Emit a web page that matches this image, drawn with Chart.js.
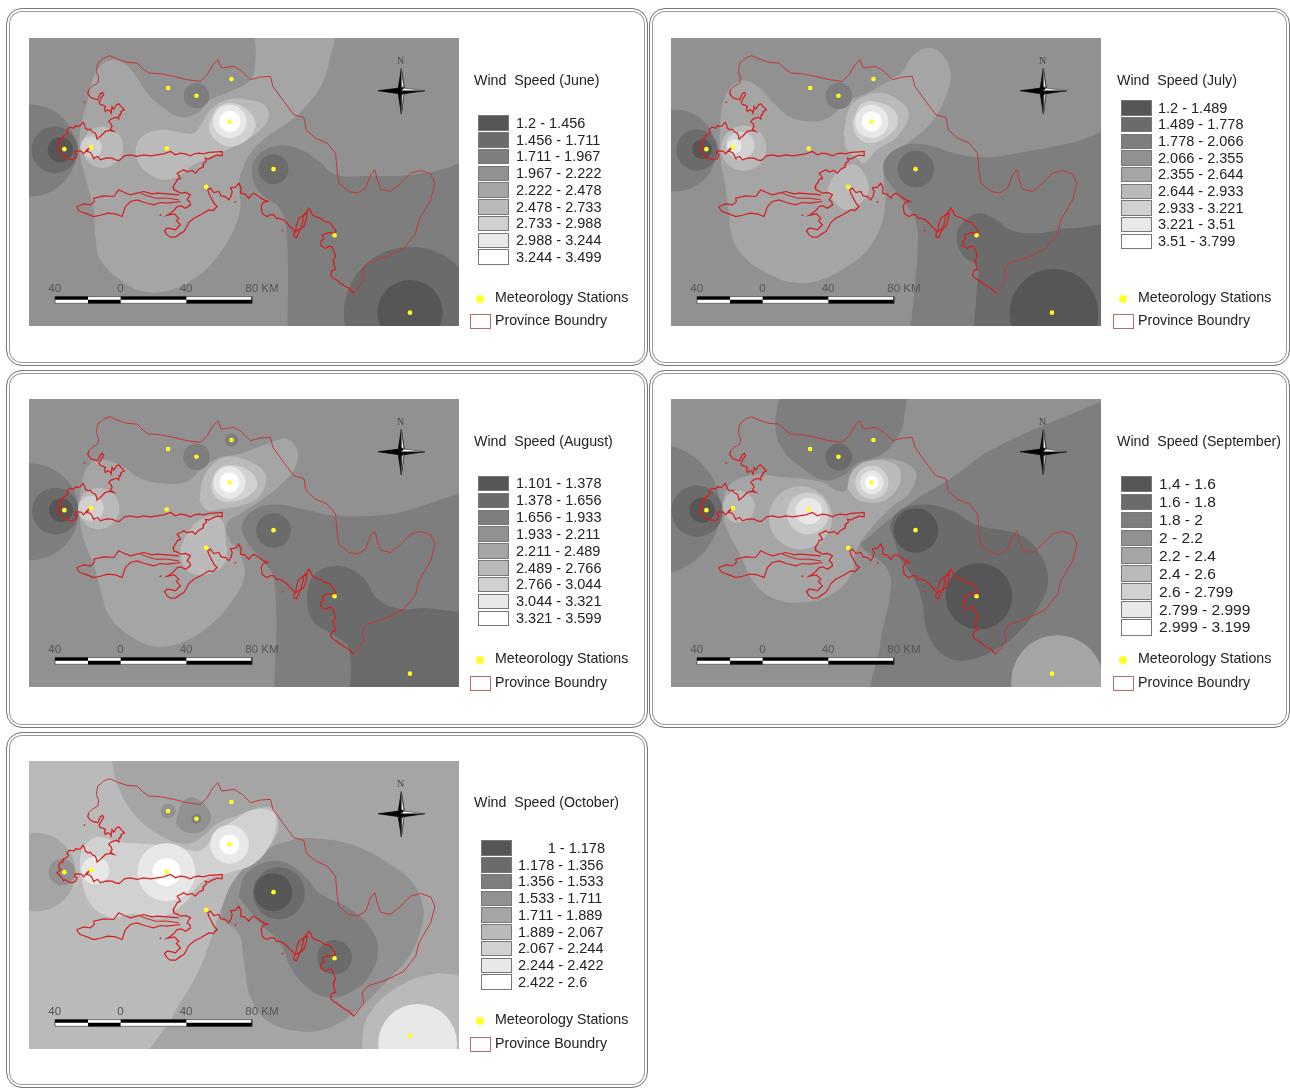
<!DOCTYPE html>
<html>
<head>
<meta charset="utf-8">
<title>Wind Speed</title>
<script src="https://cdn.jsdelivr.net/npm/chart.js@4"></script>
<style>
html,body{margin:0;padding:0;background:#fff;}
body{width:1290px;height:1088px;position:relative;overflow:hidden;font-family:"Liberation Sans",Arial,sans-serif;color:#222;}
.frame{position:absolute;box-sizing:border-box;border:1px solid #777;border-radius:16px;box-shadow:inset 0 0 0 2px #fff,inset 0 0 0 3px #999;}
canvas{position:absolute;filter:blur(.45px);}
.t{position:absolute;white-space:pre;line-height:1;filter:blur(.25px);}
.sw{position:absolute;box-sizing:border-box;border:1.5px solid #777;width:31px;}
.dot{position:absolute;width:8px;height:8px;border-radius:50%;background:#ffff22;}
.pb{position:absolute;box-sizing:border-box;width:21px;height:15px;border:1px solid #b96a6a;}
</style>
</head>
<body>
<script>
// DATA
const months = ['June','July','August','September','October'];

const juneRanges = ['1.2 - 1.456','1.456 - 1.711','1.711 - 1.967','1.967 - 2.222','2.222 - 2.478','2.478 - 2.733','2.733 - 2.988','2.988 - 3.244','3.244 - 3.499'];
const julyRanges = ['1.2 - 1.489','1.489 - 1.778','1.778 - 2.066','2.066 - 2.355','2.355 - 2.644','2.644 - 2.933','2.933 - 3.221','3.221 - 3.51','3.51 - 3.799'];
const augustRanges = ['1.101 - 1.378','1.378 - 1.656','1.656 - 1.933','1.933 - 2.211','2.211 - 2.489','2.489 - 2.766','2.766 - 3.044','3.044 - 3.321','3.321 - 3.599'];
const septemberRanges = ['1.4 - 1.6','1.6 - 1.8','1.8 - 2','2 - 2.2','2.2 - 2.4','2.4 - 2.6','2.6 - 2.799','2.799 - 2.999','2.999 - 3.199'];
const octoberRanges = ['1 - 1.178','1.178 - 1.356','1.356 - 1.533','1.533 - 1.711','1.711 - 1.889','1.889 - 2.067','2.067 - 2.244','2.244 - 2.422','2.422 - 2.6'];

const stations = [[132,358],[212,352],[443,175],[528,198],[633,148],[627,275],[439,356],[557,471],[759,418],[942,616],[1168,848]];
const islets = [[192,217],[645,516],[786,602],[420,556]];

const coast = [[205,180],[202,192],[208,200],[215,205],[232,210],[240,192],[246,188],[250,195],[244,202],[240,210],[236,218],[240,225],[248,226],[255,230],[252,238],[255,245],[262,240],[268,242],[272,250],[275,230],[280,238],[288,226],[295,222],[304,232],[312,240],[304,244],[302,250],[296,256],[295,268],[288,262],[280,265],[272,268],[265,275],[272,282],[275,290],[270,298],[280,305],[268,302],[255,305],[242,318],[230,328],[228,318],[225,310],[216,306],[210,298],[202,300],[195,295],[192,284],[188,278],[180,288],[175,290],[166,288],[160,295],[148,292],[140,300],[144,308],[138,315],[130,318],[128,325],[118,330],[115,345],[122,350],[110,360],[118,368],[125,375],[130,384],[135,380],[145,388],[155,390],[165,386],[170,375],[162,370],[165,363],[182,364],[190,372],[200,360],[210,350],[204,358],[200,365],[210,368],[215,375],[218,382],[220,385],[232,380],[240,390],[258,384],[275,385],[285,390],[296,392],[305,385],[312,378],[330,375],[350,380],[370,375],[390,378],[410,375],[430,372],[450,365],[465,375],[480,370],[495,372],[510,378],[522,372],[535,370],[550,372],[565,368],[590,366],[605,365],[605,378],[590,376],[575,382],[565,388],[555,385],[558,394],[550,400],[548,412],[535,418],[525,430],[515,422],[500,426],[490,420],[480,425],[470,430],[476,438],[480,445],[470,450],[465,460],[458,470],[460,480],[470,484],[480,490],[495,488],[510,495],[504,503],[500,510],[508,516],[510,525],[495,535],[482,528],[470,530],[460,542],[450,550],[440,556],[462,552],[475,565],[468,572],[480,585],[472,592],[465,600],[452,596],[440,595],[432,602],[440,615],[450,622],[465,622],[478,612],[490,605],[498,592],[505,578],[520,565],[542,554],[565,540],[578,542],[590,530],[582,522],[575,510],[570,500],[565,490],[562,480],[570,475],[580,488],[595,485],[602,498],[615,500],[625,510],[632,498],[635,485],[630,474],[645,472],[655,460],[662,475],[660,490],[672,492],[685,505],[692,495],[700,490],[715,500],[730,510],[742,514],[728,518],[722,528],[725,550],[732,556],[740,560],[750,554],[760,555],[768,566],[775,565],[788,570],[800,580],[808,590],[815,595],[822,605],[820,620],[828,624],[835,605],[842,595],[850,555],[858,545],[865,535],[872,546],[875,555],[888,562],[900,565],[908,572],[915,575],[928,578],[940,595],[946,604],[940,610],[925,608],[905,615],[910,628],[902,632],[900,645],[908,652],[915,655],[928,648],[935,652],[940,665],[945,680],[938,690],[940,705],[945,718],[934,722],[930,735],[938,745],[948,750],[960,760],[972,768],[985,775],[1000,790]];
const landBorder = [[1000,790],[1030,750],[1025,720],[1040,700],[1100,680],[1150,655],[1185,610],[1195,570],[1230,510],[1243,460],[1230,432],[1200,422],[1170,430],[1140,460],[1110,485],[1080,478],[1070,450],[1063,420],[1050,435],[1035,475],[1010,490],[985,485],[955,460],[950,430],[945,370],[920,340],[885,325],[857,300],[850,263],[820,255],[790,215],[757,170],[750,140],[720,142],[690,150],[665,125],[640,110],[603,115],[592,90],[578,105],[560,135],[540,155],[500,150],[460,140],[420,132],[385,130],[368,118],[350,100],[320,98],[290,88],[268,78],[250,85],[232,100],[228,125],[235,145],[232,160],[215,170],[205,180]];
const armBoundary = [[475,495],[440,492],[410,490],[395,492],[370,485],[350,490],[330,495],[312,488],[295,480],[280,500],[250,498],[220,505],[222,515],[210,525],[190,522],[170,530],[174,540],[180,545],[200,552],[220,560],[240,556],[262,550],[285,552],[305,560],[310,545],[315,530],[330,515],[350,510],[372,518],[400,525],[420,518],[440,520],[480,515]];
const armInner = [[360,490],[382,498],[405,505],[440,505],[475,510]];
const bayIsland = [[835,565],[848,556],[860,550],[856,572],[850,590],[836,598],[825,605],[828,585],[835,565]];

// contour layers per month, each g is a class of the legend (0 dark .. 8 white)
const juneBase = 3;
const juneLayers = [
  {g:4,pts:[[700,0],[930,0],[925,100],[900,170],[855,230],[800,280],[740,320],[690,370],[665,420],[655,470],[660,530],[640,600],[590,680],[530,740],[450,780],[370,785],[300,750],[240,690],[225,620],[220,540],[200,460],[180,380],[180,300],[200,220],[225,130],[260,95],[300,95],[340,130],[380,190],[430,235],[480,262],[530,250],[570,210],[630,185],[690,150],[705,90],[700,0]]},
  {g:2,pts:[[800,950],[800,640],[780,540],[720,490],[695,440],[705,385],[760,350],[830,355],[890,390],[945,435],[1050,438],[1150,437],[1240,425],[1400,400],[1400,950],[800,950]]},
  {g:1,c:[759,418,45]},{g:2,c:[528,198,38]},
  {g:1,c:[1170,850,200]},{g:0,c:[1168,848,98]},
  {g:2,c:[30,362,138]},{g:1,c:[103,360,70]},{g:0,c:[120,360,38]},
  {g:5,c:[247,352,62]},{g:6,c:[212,352,32]},
  {g:5,pts:[[345,355],[365,320],[420,300],[490,310],[520,310],[545,280],[570,240],[620,210],[680,210],[730,225],[745,260],[720,300],[680,330],[620,360],[560,385],[510,410],[470,440],[420,448],[370,420],[350,390],[345,355]]},
  {g:6,pts:[[565,285],[590,235],[630,220],[680,240],[705,285],[680,330],[630,350],[590,335],[570,310],[565,285]]},
  {g:7,c:[628,275,50]},{g:8,c:[628,275,32]}
];
const julyBase = 3;
const julyLayers = [
  {g:4,pts:[[725,130],[760,75],[810,55],[850,80],[870,130],[860,190],[825,260],[780,310],[720,355],[680,390],[670,440],[675,510],[660,590],[620,660],[560,710],[480,750],[400,758],[320,730],[250,680],[215,620],[205,540],[195,470],[180,380],[180,280],[195,200],[235,155],[285,165],[340,220],[390,262],[460,275],[510,260],[560,215],[620,190],[690,150],[725,130]]},
  {g:2,pts:[[745,950],[772,640],[760,560],[710,490],[670,430],[680,380],[740,345],[810,348],[880,370],[970,382],[1100,365],[1230,340],[1400,305],[1400,950],[745,950]]},
  {g:1,pts:[[935,950],[950,760],[950,710],[910,680],[888,630],[900,585],[950,550],[1000,565],[1050,600],[1130,610],[1230,595],[1400,605],[1400,950],[935,950]]},
  {g:0,c:[1180,850,133]},
  {g:2,c:[45,362,123]},{g:1,c:[110,360,62]},{g:0,c:[125,358,30]},
  {g:1,c:[766,418,55]},{g:2,c:[535,198,40]},
  {g:5,c:[250,355,68]},{g:6,c:[240,347,42]},{g:7,c:[222,350,22]},
  {g:5,pts:[[550,310],[565,240],[600,205],[660,190],[720,215],[745,255],[710,320],[650,360],[610,400],[590,385],[560,360],[550,310]]},
  {g:6,pts:[[575,280],[600,225],[640,215],[700,240],[710,285],[680,320],[630,340],[590,320],[575,280]]},
  {g:7,c:[634,275,50]},{g:8,c:[634,275,30]},
  {g:5,pts:[[500,480],[520,440],[570,405],[600,415],[625,470],[610,510],[560,540],[520,515],[500,480]]}
];
const augustBase = 3;
const augustLayers = [
  {g:4,pts:[[755,150],[800,142],[830,175],[825,225],[790,270],[730,320],[660,365],[620,395],[625,440],[660,490],[672,550],[640,620],[580,690],[500,745],[420,765],[360,750],[300,710],[260,660],[240,590],[220,520],[190,440],[178,370],[185,270],[210,215],[250,205],[300,220],[360,260],[430,275],[500,270],[540,235],[590,200],[660,185],[755,150]]},
  {g:2,pts:[[760,950],[762,565],[720,500],[680,450],[665,400],[700,355],[770,338],[860,355],[950,372],[1100,368],[1400,330],[1400,950],[760,950]]},
  {g:1,pts:[[985,950],[985,770],[940,730],[880,690],[860,630],[870,565],[910,530],[970,525],[1030,560],[1070,620],[1130,650],[1230,650],[1400,700],[1400,950],[985,950]]},
  {g:1,c:[759,416,52]},{g:2,c:[528,195,40]},{g:2,c:[633,145,20]},
  {g:2,c:[30,360,145]},{g:1,c:[105,358,70]},{g:0,c:[122,355,36]},
  {g:5,c:[235,350,62]},{g:6,c:[212,350,38]},
  {g:5,pts:[[537,330],[545,270],[570,225],[620,195],[690,210],[735,250],[720,310],[670,340],[610,350],[560,355],[537,330]]},
  {g:5,pts:[[480,470],[500,425],[545,380],[600,380],[615,440],[615,510],[570,545],[515,545],[485,510],[480,470]]},
  {g:6,pts:[[570,285],[590,235],[630,220],[690,240],[710,280],[680,315],[630,330],[590,320],[570,285]]},
  {g:7,c:[627,272,48]},{g:8,c:[627,272,30]}
];
const septemberBase = 3;
const septemberLayers = [
  {g:2,pts:[[1400,0],[1322,30],[1000,170],[870,260],[770,320],[690,380],[620,440],[600,460],[680,530],[690,600],[660,750],[655,950],[1400,950],[1400,0]]},
  {g:4,c:[1190,868,138]},
  {g:2,pts:[[360,0],[345,100],[365,170],[420,225],[490,265],[550,250],[590,215],[660,190],[710,140],[730,85],[722,0],[360,0]]},
  {g:1,c:[535,196,40]},
  {g:1,pts:[[700,440],[690,400],[720,355],[790,338],[870,355],[950,400],[1080,430],[1140,490],[1162,570],[1130,650],[1075,720],[1010,770],[920,805],[850,790],[800,720],[785,630],[760,560],[720,500],[700,440]]},
  {g:0,c:[955,613,100]},{g:0,c:[766,416,67]},
  {g:2,c:[-15,352,195]},{g:1,c:[110,358,77]},{g:0,c:[125,355,38]},
  {g:4,pts:[[190,360],[200,290],[270,250],[360,255],[480,270],[545,300],[575,270],[590,225],[640,205],[710,205],[765,240],[750,300],[700,340],[640,400],[590,470],[570,550],[510,610],[420,632],[340,620],[280,570],[240,490],[195,400],[190,360]]},
  {g:5,c:[420,378,95]},{g:5,c:[235,345,48]},
  {g:5,pts:[[560,290],[575,240],[625,208],[700,215],[722,250],[700,305],[650,332],[595,325],[560,290]]},
  {g:6,c:[442,365,63]},{g:7,c:[445,358,40]},
  {g:6,c:[634,272,50]},{g:7,c:[634,272,35]},{g:8,c:[634,272,20]}
];
const octoberBase = 5;
const octoberLayers = [
  {g:4,pts:[[272,0],[1400,0],[1400,650],[1240,660],[1130,700],[1040,790],[990,950],[380,950],[460,780],[530,660],[575,545],[600,470],[640,400],[700,330],[770,240],[768,180],[740,160],[650,185],[590,210],[550,245],[500,270],[420,245],[340,180],[290,90],[272,0]]},
  {g:7,c:[1191,868,118]},
  {g:3,pts:[[600,470],[640,380],[720,300],[810,260],[900,255],[1000,275],[1090,320],[1170,380],[1205,450],[1205,510],[1170,600],[1100,680],[1020,760],[930,820],[840,832],[740,800],[690,730],[670,620],[655,540],[610,500],[600,470]]},
  {g:2,pts:[[655,430],[670,370],[720,330],[790,325],[850,365],[900,420],[980,460],[1040,510],[1072,580],[1050,660],[990,715],[920,730],[860,700],[810,640],[780,570],[720,510],[655,430]]},
  {g:1,c:[775,418,78]},{g:0,c:[758,415,57]},{g:1,c:[942,610,52]},
  {g:4,c:[47,355,118]},{g:3,c:[125,355,40]},
  {g:3,c:[443,172,22]},
  {g:3,pts:[[470,185],[490,140],[530,135],[570,180],[555,225],[510,238],[470,215],[470,185]]},
  {g:2,c:[528,195,15]},
  {g:6,pts:[[178,360],[185,290],[230,250],[290,265],[370,270],[470,280],[540,290],[590,235],[640,200],[690,170],[750,170],[768,200],[750,270],[700,330],[630,355],[550,380],[490,450],[420,490],[340,480],[270,490],[210,450],[178,360]]},
  {g:7,c:[438,355,87]},{g:8,c:[438,355,42]},
  {g:7,c:[627,272,58]},{g:8,c:[627,272,30]},{g:7,c:[225,350,42]}
];

// scale bar and north arrow, in the same map units
const scaleStops = [104,203,301,498,694];
const scaleLabels = ['40','0','40','80 KM'];
const arrowBlack = [
  [[1142,117],[1133,175],[1142,183],[1151,175],[1142,117]],
  [[1073,183],[1135,175],[1142,183],[1135,192],[1073,183]],
  [[1142,252],[1133,192],[1142,183],[1150,192],[1142,252]],
  [[1212,183],[1150,192],[1142,183],[1212,183]]
];
const arrowWhite = [
  [[1212,183],[1150,175],[1142,183],[1212,183]],
  [[1142,117],[1150,175],[1142,170],[1142,117]],
  [[1142,252],[1150,192],[1144,195],[1142,252]]
];

// LOOK
const greys = ['#565656','#6b6b6b','#7e7e7e','#919191','#a5a5a5','#bababa','#d1d1d1','#e8e8e8','#ffffff'];
const legendNames = ['Meteorology Stations','Province Boundry'];
const unit = 1/3; // map unit to screen pixel

const panels = [
  {name:months[0],ranges:juneRanges,base:juneBase,layers:juneLayers,frame:[6,8,642,358],dx:0,dy:0,map:[28.7,38.3],title:[474,80],sw:478,lab:516,rowY:123,rowH:16.75,font:14.5,metY:297,provY:320,box:470,dot:476,met:495},
  {name:months[1],ranges:julyRanges,base:julyBase,layers:julyLayers,frame:[649,8,641,358],dx:6,dy:0,map:[670.7,38.3],title:[1117,80],sw:1121,lab:1158,rowY:108,rowH:16.65,font:14.5,metY:297,provY:320,box:1113,dot:1119,met:1138},
  {name:months[2],ranges:augustRanges,base:augustBase,layers:augustLayers,frame:[6,370,642,358],dx:0,dy:-3,map:[28.7,399.3],title:[474,441],sw:478,lab:516,rowY:483.5,rowH:16.85,font:14.5,metY:658,provY:682,box:470,dot:476,met:495},
  {name:months[3],ranges:septemberRanges,base:septemberBase,layers:septemberLayers,frame:[649,370,641,358],dx:6,dy:-3,map:[670.7,399.3],title:[1117,441],sw:1121,lab:1159,rowY:484,rowH:17.9,font:15.5,metY:658,provY:682,box:1113,dot:1119,met:1138},
  {name:months[4],ranges:octoberRanges,base:octoberBase,layers:octoberLayers,frame:[6,732,642,356],dx:0,dy:-3,map:[28.7,761.3],title:[474,802],sw:481,lab:518,firstRight:605,rowY:848,rowH:16.75,font:14.5,metY:1019,provY:1043,box:470,dot:476,met:495}
];

function xy(list,dx,dy){
  return list.map(p=>({x:p[0]-(dx||0),y:p[1]-(dy||0)}));
}

function addText(text,x,y,size,extra){
  let el = document.createElement('div');
  el.className = 't';
  el.textContent = text;
  el.style.left = x+'px';
  el.style.top = (y-size/2)+'px';
  el.style.fontSize = size+'px';
  if(extra) Object.assign(el.style,extra);
  document.body.appendChild(el);
  return el;
}

function shapeSet(points,color,smooth,line){
  return {
    type:'line',showLine:true,data:points,fill:'shape',backgroundColor:color,
    borderColor:line||color,borderWidth:line?0.7:0,pointRadius:0,tension:smooth?0.4:0,
    capBezierPoints:false
  };
}

function redLine(points,color,width){
  return {type:'line',showLine:true,data:xy(points),borderColor:color,borderWidth:width,pointRadius:0,tension:0,fill:false};
}

function barSet(a,b,y,color,width){
  return {type:'line',showLine:true,data:[{x:a,y:y},{x:b,y:y}],borderColor:color,borderWidth:width,borderCapStyle:'butt',pointRadius:0,tension:0};
}

function buildDatasets(p){
  let sets = [];
  p.layers.forEach(l=>{
    if(l.pts){
      sets.push(shapeSet(xy(l.pts,p.dx,p.dy),greys[l.g],true));
    }else{
      sets.push({type:'bubble',data:[{x:l.c[0]-p.dx,y:l.c[1]-p.dy,r:l.c[2]*unit}],backgroundColor:greys[l.g],borderWidth:0});
    }
  });
  // scale bar
  for(let i=0;i<scaleStops.length-1;i++){
    let a = scaleStops[i], b = scaleStops[i+1];
    sets.push(barSet(a,b,805,i%2==0?'#000':'#fff',3.6));
    sets.push(barSet(a,b,815,i%2==0?'#fff':'#000',3.6));
  }
  sets.push({type:'line',showLine:true,data:xy([[104,800],[694,800],[694,820],[104,820],[104,800]]),borderColor:'#222',borderWidth:0.6,pointRadius:0,tension:0});
  // north arrow
  arrowBlack.forEach(a=>sets.push(shapeSet(xy(a),'#000',false,'#000')));
  arrowWhite.forEach(a=>sets.push(shapeSet(xy(a),'#fff',false,'#444')));
  // province boundary and stations
  sets.push(redLine(landBorder,'#c73636',1));
  sets.push(redLine(coast,'#d61f1f',1.25));
  sets.push(redLine(armBoundary,'#d61f1f',1.15));
  sets.push(redLine(armInner,'#d61f1f',1));
  sets.push(redLine(bayIsland,'#d61f1f',1.15));
  sets.push({type:'scatter',data:xy(islets),backgroundColor:'#d61f1f',borderWidth:0,pointRadius:0.9});
  sets.push({type:'scatter',data:xy(stations),backgroundColor:'#ffff22',borderWidth:0,pointRadius:2.3});
  // later sets go on top
  sets.forEach((s,i)=>{s.order = sets.length-i;});
  return sets;
}

panels.forEach(p=>{
  let frame = document.createElement('div');
  frame.className = 'frame';
  frame.style.left = p.frame[0]+'px';
  frame.style.top = p.frame[1]+'px';
  frame.style.width = p.frame[2]+'px';
  frame.style.height = p.frame[3]+'px';
  document.body.appendChild(frame);

  let canvas = document.createElement('canvas');
  canvas.style.left = p.map[0]+'px';
  canvas.style.top = p.map[1]+'px';
  canvas.style.background = greys[p.base];
  document.body.appendChild(canvas);
  canvas.width = 430;
  canvas.height = 288;

  new Chart(canvas.getContext('2d'),{
    type:'scatter',
    data:{datasets:buildDatasets(p)},
    options:{
      responsive:false,
      animation:false,
      layout:{padding:0,autoPadding:false},
      events:[],
      scales:{
        x:{type:'linear',display:false,min:26,max:1315},
        y:{type:'linear',display:false,min:25,max:888,reverse:true}
      },
      plugins:{legend:{display:false},tooltip:{enabled:false}}
    }
  });

  // text over the map
  scaleLabels.forEach((s,i)=>{
    let x = p.map[0]+(scaleStops[i==0?0:i==1?2:i==2?3:4]-26)*unit;
    let el = addText(s,x,p.map[1]+(777-25)*unit,11.5,{color:'#555'});
    if(i<3) el.style.transform = 'translateX(-50%)';
    else el.style.transform = 'translateX(-6px)';
  });
  addText('N',p.map[0]+(1142-26)*unit,p.map[1]+(92-25)*unit,10,{color:'#444',fontFamily:'"Liberation Serif",serif',transform:'translateX(-50%)'});

  // legend
  addText('Wind  Speed ('+p.name+')',p.title[0],p.title[1],14.2);
  p.ranges.forEach((r,i)=>{
    let y = p.rowY+i*p.rowH;
    let sw = document.createElement('div');
    sw.className = 'sw';
    sw.style.left = p.sw+'px';
    sw.style.top = (y-p.rowH/2+0.8)+'px';
    sw.style.height = (p.rowH-1.4)+'px';
    sw.style.background = greys[i];
    document.body.appendChild(sw);
    if(p.firstRight && i==0){
      let el = addText(r,p.firstRight,y,p.font);
      el.style.transform = 'translateX(-100%)';
    }else{
      addText(r,p.lab,y,p.font);
    }
  });
  let dot = document.createElement('div');
  dot.className = 'dot';
  dot.style.left = p.dot+'px';
  dot.style.top = (p.metY-2)+'px';
  document.body.appendChild(dot);
  addText(legendNames[0],p.met,p.metY,14.2);
  let box = document.createElement('div');
  box.className = 'pb';
  box.style.left = p.box+'px';
  box.style.top = (p.provY-6.5)+'px';
  document.body.appendChild(box);
  addText(legendNames[1],p.met,p.provY,14.2);
});
</script>
</body>
</html>
